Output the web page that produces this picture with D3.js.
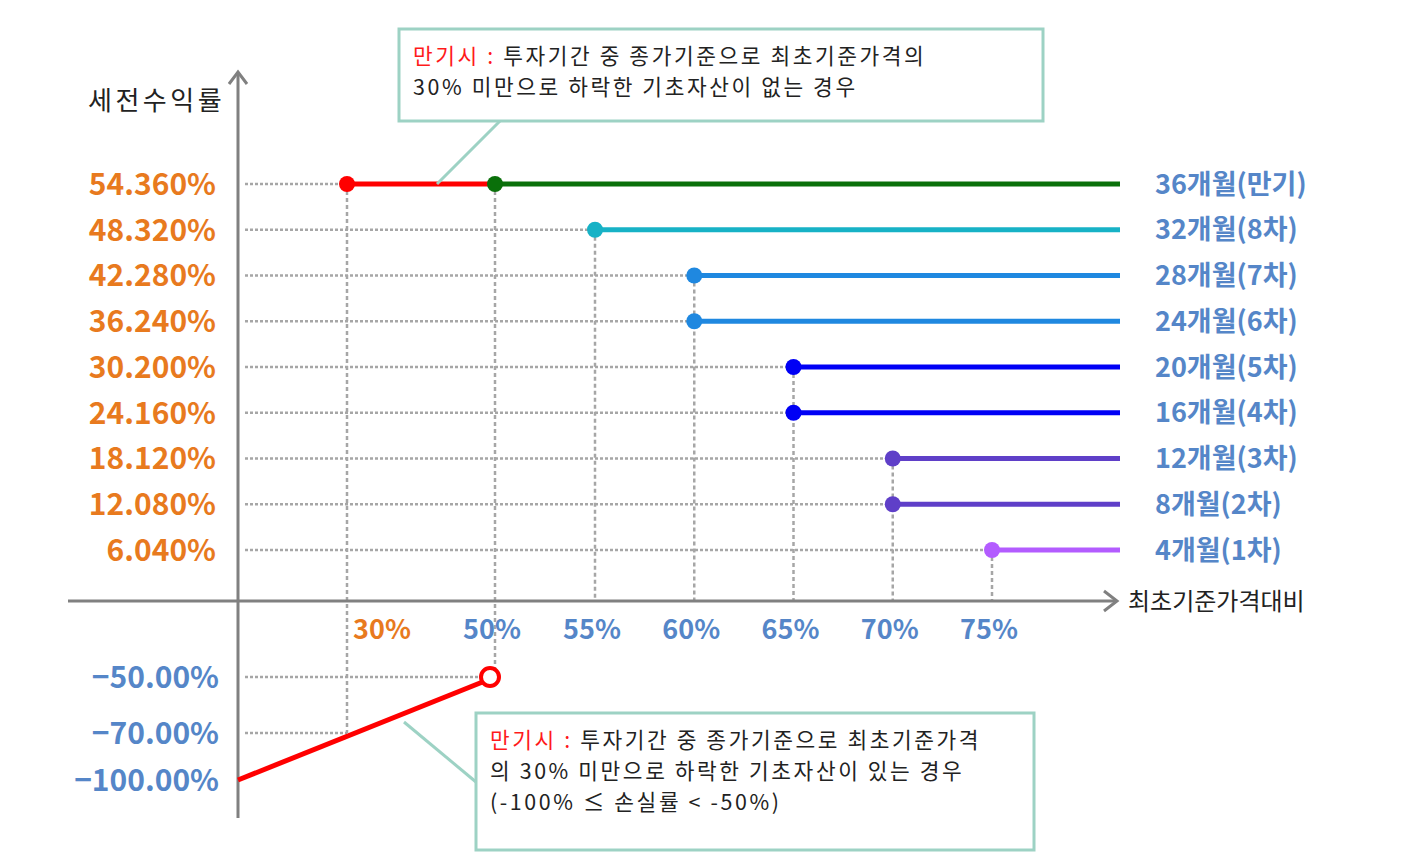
<!DOCTYPE html>
<html>
<head>
<meta charset="utf-8">
<script src="https://cdn.jsdelivr.net/npm/d3@7"></script>
<style>
body{margin:0;background:#fff;}
text{font-family:"Noto Sans CJK KR","Noto Sans",sans-serif;}
</style>
</head>
<body>
<div class="canvas"></div>
<script>
// data
const seriesLabels=['36개월(만기)','32개월(8차)','28개월(7차)','24개월(6차)','20개월(5차)','16개월(4차)','12개월(3차)','8개월(2차)','4개월(1차)'];
const seriesReturns=[54.36,48.32,42.28,36.24,30.20,24.16,18.12,12.08,6.04];
const seriesBarriers=[50,55,60,60,65,65,70,70,75];
const xTicks=[30,50,55,60,65,70,75];
const yTicksPos=[54.36,48.32,42.28,36.24,30.20,24.16,18.12,12.08,6.04];
const yTicksNeg=[-50,-70,-100];
const knockInBarrier=30;
const lossLine=[[0,-100],[50,-50]];

const colors=['#0a700a','#17b2c6','#1f88e0','#1f88e0','#0000f5','#0000f5','#5f3fc8','#5f3fc8','#b35cff'];

const W=1408,H=858;
const svg=d3.select('.canvas')
      .append('svg')
        .attr('width',W)
        .attr('height',H);

// axis breaks are not linear in the picture, so piecewise scales
const x=d3.scaleLinear()
      .domain([0,30,50,55,75,100])
      .range([238,347,495,595,992,1120]);
const y=d3.scaleLinear()
      .domain([-100,-70,-50,0,6.04,54.36])
      .range([780,733,677,601,550,184]);

const gray='#808080', guide='#a6a6a6';
const grid=svg.append('g');

// horizontal dotted guides
grid.selectAll('line.h')
  .data(seriesReturns)
  .enter().append('line')
    .attr('x1',x(0)+7)
    .attr('x2',(d,i)=>i===0?x(knockInBarrier):x(seriesBarriers[i]))
    .attr('y1',d=>y(d)).attr('y2',d=>y(d))
    .attr('stroke',guide).attr('stroke-width',2.5).attr('stroke-dasharray','3,2');
[-50,-70].forEach(v=>{
  grid.append('line')
    .attr('x1',x(0)+7).attr('x2',v===-50?x(lossLine[1][0])-6:x(knockInBarrier))
    .attr('y1',y(v)).attr('y2',y(v))
    .attr('stroke',guide).attr('stroke-width',2.5).attr('stroke-dasharray','3,2');
});
// vertical dashed guides, one per barrier (from its highest return)
const barrierTop=d3.rollups(seriesBarriers.map((b,i)=>[b,seriesReturns[i]]),v=>d3.max(v,d=>d[1]),d=>d[0]);
barrierTop.push([knockInBarrier,seriesReturns[0]]);
grid.selectAll('line.v')
  .data(barrierTop)
  .enter().append('line')
    .attr('x1',d=>x(d[0])).attr('x2',d=>x(d[0]))
    .attr('y1',d=>y(d[1]))
    .attr('y2',d=>d[0]===knockInBarrier?y(-70):d[0]===lossLine[1][0]?y(lossLine[1][1]):y(0))
    .attr('stroke',guide).attr('stroke-width',2.5).attr('stroke-dasharray','4,3');

// axes
svg.append('line').attr('x1',x(0)).attr('x2',x(0)).attr('y1',74).attr('y2',818)
   .attr('stroke',gray).attr('stroke-width',3);
svg.append('path').attr('d',`M${x(0)-9},${84} L${x(0)},${72} L${x(0)+9},${84}`)
   .attr('fill','none').attr('stroke',gray).attr('stroke-width',3);
svg.append('line').attr('x1',68).attr('x2',1116).attr('y1',y(0)).attr('y2',y(0))
   .attr('stroke',gray).attr('stroke-width',3);
svg.append('path').attr('d',`M1104,${y(0)-10} L1117,${y(0)} L1104,${y(0)+10}`)
   .attr('fill','none').attr('stroke',gray).attr('stroke-width',3);

// payoff lines
const lines=svg.append('g');
lines.selectAll('line')
  .data(seriesReturns)
  .enter().append('line')
    .attr('x1',(d,i)=>x(seriesBarriers[i]))
    .attr('x2',x(100))
    .attr('y1',d=>y(d)).attr('y2',d=>y(d))
    .attr('stroke',(d,i)=>colors[i]).attr('stroke-width',5);
// red segment at maturity between 30% and 50%
lines.append('line')
    .attr('x1',x(knockInBarrier)).attr('x2',x(seriesBarriers[0]))
    .attr('y1',y(seriesReturns[0])).attr('y2',y(seriesReturns[0]))
    .attr('stroke','#ff0000').attr('stroke-width',5);
lines.append('path')
    .attr('d',d3.line().x(d=>x(d[0])).y(d=>y(d[1]))(lossLine))
    .attr('stroke','#ff0000').attr('stroke-width',5).attr('fill','none');
lines.append('circle')
    .attr('cx',x(lossLine[1][0])-5).attr('cy',y(lossLine[1][1])).attr('r',9)
    .attr('fill','#fff').attr('stroke','#ff0000').attr('stroke-width',4);
lines.append('circle')
    .attr('cx',x(knockInBarrier)).attr('cy',y(seriesReturns[0])).attr('r',8)
    .attr('fill','#ff0000');
lines.selectAll('circle.dot')
  .data(seriesReturns)
  .enter().append('circle')
    .attr('cx',(d,i)=>x(seriesBarriers[i]))
    .attr('cy',d=>y(d)).attr('r',8)
    .attr('fill',(d,i)=>colors[i]);

// tick labels
const orange='#e87a1e', blue='#5586c8';
svg.append('g').selectAll('text')
  .data(yTicksPos)
  .enter().append('text')
    .attr('x',216).attr('y',d=>y(d)).attr('dy','0.36em')
    .attr('text-anchor','end')
    .attr('fill',orange).attr('font-size',30).attr('font-weight','bold')
    .text(d=>d3.format('.3f')(d)+'%');
svg.append('g').selectAll('text')
  .data(yTicksNeg)
  .enter().append('text')
    .attr('x',219).attr('y',d=>y(d)).attr('dy','0.36em')
    .attr('text-anchor','end')
    .attr('fill',blue).attr('font-size',30).attr('font-weight','bold')
    .text(d=>d3.format('.2f')(d)+'%');
svg.append('g').selectAll('text')
  .data(xTicks)
  .enter().append('text')
    .attr('x',d=>d===knockInBarrier?x(d)+35:x(d)-3).attr('y',629).attr('dy','0.36em')
    .attr('text-anchor','middle')
    .attr('fill',d=>d===knockInBarrier?orange:blue)
    .attr('font-size',27).attr('font-weight','bold')
    .text(d=>d+'%');

// series labels on the right
svg.append('g').selectAll('text')
  .data(seriesLabels)
  .enter().append('text')
    .attr('x',1155).attr('y',(d,i)=>y(seriesReturns[i])).attr('dy','0.36em')
    .attr('fill',blue).attr('font-size',27).attr('font-weight','bold')
    .text(d=>d);

// axis titles
svg.append('text').attr('x',88).attr('y',101).attr('dy','0.36em')
   .attr('font-size',26).attr('letter-spacing',3.5).attr('fill','#222').text('세전수익률');
svg.append('text').attr('x',1128).attr('y',y(0)).attr('dy','0.36em')
   .attr('font-size',24).attr('fill','#222').text('최초기준가격대비');

// annotation boxes
const mint='#9dd2c4';
function note(bx,by,bw,bh,lines,lx,ly,px,py){
  svg.append('line').attr('x1',lx).attr('y1',ly).attr('x2',px).attr('y2',py)
     .attr('stroke',mint).attr('stroke-width',3);
  svg.append('rect').attr('x',bx).attr('y',by).attr('width',bw).attr('height',bh)
     .attr('fill','#fff').attr('stroke',mint).attr('stroke-width',3);
  lines.forEach((ln,k)=>{
    const t=svg.append('text').attr('x',bx+14).attr('y',by+27+k*31).attr('dy','0.36em')
      .attr('font-size',21.4).attr('letter-spacing',2.6).attr('fill','#222');
    if(k===0){
      t.append('tspan').attr('fill','#ff1a1a').text('만기시 : ');
    }
    t.append('tspan').text(ln);
  });
}
note(399,29,644,92,['투자기간 중 종가기준으로 최초기준가격의','30% 미만으로 하락한 기초자산이 없는 경우'],500,121,437,184);
note(476,713,558,137,['투자기간 중 종가기준으로 최초기준가격','의 30% 미만으로 하락한 기초자산이 있는 경우','(-100% ≤ 손실률 < -50%)'],476,782,404,722);
</script>
</body>
</html>
